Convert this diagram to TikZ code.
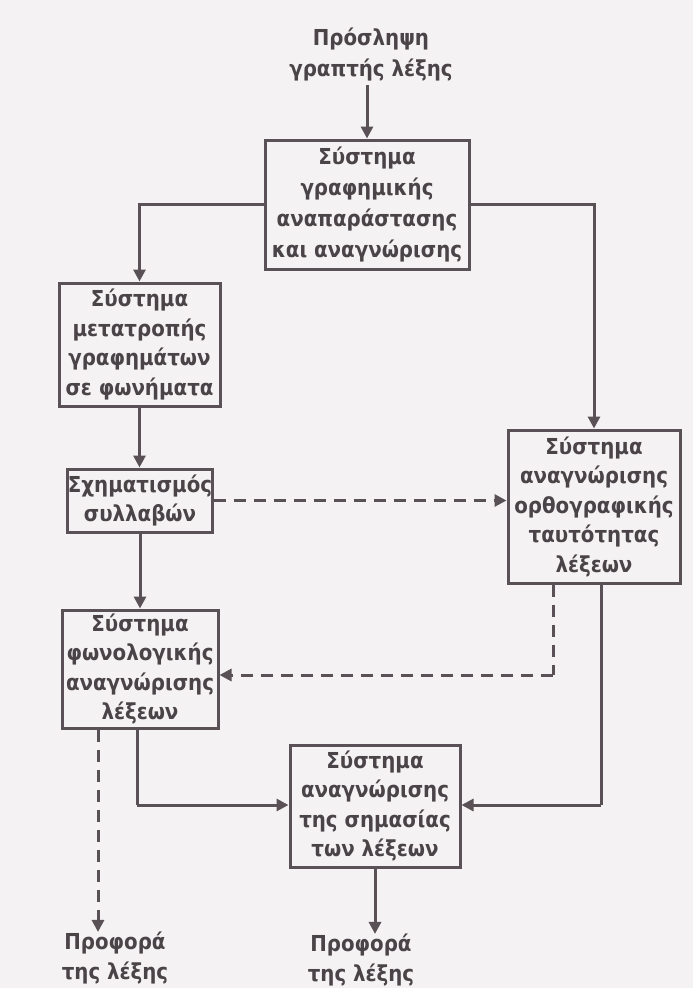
\documentclass[tikz,border=0pt]{standalone}
\usepackage{fontspec}
\setmainfont{DejaVu Sans Condensed}
\usetikzlibrary{arrows.meta}
\definecolor{paper}{HTML}{F4F2F3}
\definecolor{ink}{HTML}{5A5157}
\definecolor{txt}{HTML}{4A4347}
\begin{document}
\begin{tikzpicture}[x=1pt,y=-1pt,
  every node/.style={text=txt,font=\fontsize{22}{29.5}\selectfont\bfseries,align=center,inner sep=0pt},
  wide/.style={font=\fontsize{22}{31}\selectfont\bfseries},
  sysbox/.style={draw=ink,line width=3pt,rectangle},
  conn/.style={draw=ink,line width=3pt},
  arr/.style={conn,-{Triangle[length=12pt,width=12pt]}},
  darr/.style={arr,dash pattern=on 12pt off 8pt},
  dline/.style={conn,dash pattern=on 12pt off 8pt}]
  % page
  \fill[paper] (0,0) rectangle (693,988);
  \useasboundingbox (0,0) rectangle (693,988);

  % input and output labels
  \node[wide] (in) at (371,54) {Πρόσληψη\\γραπτής λέξης};
  \node (o1) at (115,958) {Προφορά\\της λέξης};
  \node (o2) at (361,960) {Προφορά\\της λέξης};

  % processing systems
  \node[sysbox,wide,minimum width=204pt,minimum height=129pt] (b1) at (367,204.5)
    {Σύστημα\\γραφημικής\\αναπαράστασης\\και αναγνώρισης};
  \node[sysbox,minimum width=161pt,minimum height=123pt] (b2) at (139.5,344.5)
    {Σύστημα\\μετατροπής\\γραφημάτων\\σε φωνήματα};
  \node[sysbox,minimum width=144pt,minimum height=63pt] (b3) at (140,500.5)
    {Σχηματισμός\\συλλαβών};
  \node[sysbox,minimum width=172pt,minimum height=153pt] (b4) at (594,506.5)
    {Σύστημα\\αναγνώρισης\\ορθογραφικής\\ταυτότητας\\λέξεων};
  \node[sysbox,minimum width=156pt,minimum height=118pt] (b5) at (140,669)
    {Σύστημα\\φωνολογικής\\αναγνώρισης\\λέξεων};
  \node[sysbox,minimum width=170pt,minimum height=122pt] (b6) at (375,806)
    {Σύστημα\\αναγνώρισης\\της σημασίας\\των λέξεων};

  % bend points of the routed connectors
  \coordinate (d1) at (553,675);
  \coordinate (c1) at (601,805);
  \coordinate (c2) at (137,805);
  \coordinate (d2) at (98,917);

  % connectors
  \draw[arr] (in.south -| b1.north) ++(0,4) -- (b1.north);
  \draw[arr] (b1.west) -| (b2.north);
  \draw[arr] (b1.east) -| (b4.north);
  \draw[arr] (b2.south) -- (b2.south |- b3.north);
  \draw[darr] (b3.east) -- (b3.east -| b4.west);
  \draw[arr] (b3.south) -- (b3.south |- b5.north);
  \draw[dline] (b4.south -| d1) -- (d1);
  \draw[darr] (d1) -- (d1 -| b5.east);
  \draw[conn] (b4.south -| c1) -- (c1);
  \draw[arr] (c1) -- (c1 -| b6.east);
  \draw[conn] (b5.south -| c2) -- (c2);
  \draw[arr] (c2) -- (c2 -| b6.west);
  \draw[darr] (b5.south -| d2) -- (d2 |- o1.north);
  \draw[arr] (b6.south) -- (b6.south |- o2.north);
\end{tikzpicture}
\end{document}
